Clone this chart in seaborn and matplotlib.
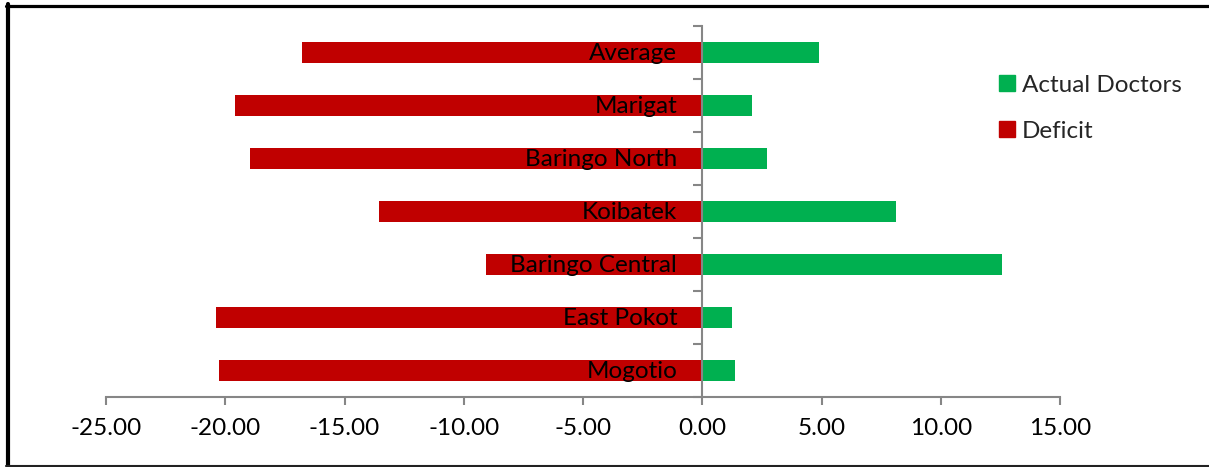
import matplotlib
matplotlib.use("Agg")
import matplotlib.pyplot as plt
import matplotlib.ticker as mticker
from matplotlib.lines import Line2D
import seaborn as sns
import pandas as pd

# Doctors per constituency (top row first)
constituencies = ["Average", "Marigat", "Baringo North", "Koibatek",
                  "Baringo Central", "East Pokot", "Mogotio"]
actual_doctors = [4.90, 2.09, 2.71, 8.12, 12.58, 1.26, 1.39]
deficit = [-16.77, -19.59, -18.96, -13.56, -9.07, -20.40, -20.28]
series_names = ["Actual Doctors", "Deficit"]
series_colors = ["#00B050", "#C00000"]
x_ticks = [-25, -20, -15, -10, -5, 0, 5, 10, 15]

df = pd.DataFrame({
    "Constituency": constituencies * 2,
    "Value": actual_doctors + deficit,
    "Series": [series_names[0]] * len(constituencies)
              + [series_names[1]] * len(constituencies),
})

sns.set_style("white")
plt.rcParams["font.family"] = ["Lato", "DejaVu Sans"]
plt.rcParams["axes.unicode_minus"] = False

FS = 17.5

fig = plt.figure(figsize=(12.09, 4.67), dpi=100)
ax = fig.add_axes([106 / 1209, 1 - 397 / 467, 954 / 1209, 371 / 467])

sns.barplot(data=df, x="Value", y="Constituency", hue="Series",
            order=constituencies, hue_order=series_names,
            palette=dict(zip(series_names, series_colors)), saturation=1,
            dodge=False, width=0.4, orient="h", ax=ax,
            linewidth=0, legend=False)

ax.set_xlim(x_ticks[0], x_ticks[-1])
ax.set_ylim(len(constituencies) - 0.5, -0.5)
ax.set_xlabel("")
ax.set_ylabel("")

axis_grey = "#868686"
for side in ("top", "right"):
    ax.spines[side].set_visible(False)
ax.spines["left"].set_position(("data", 0))
for side in ("left", "bottom"):
    ax.spines[side].set_color(axis_grey)
    ax.spines[side].set_linewidth(1.5)

# x axis
ax.set_xticks(x_ticks)
ax.xaxis.set_major_formatter(mticker.FormatStrFormatter("%.2f"))
ax.tick_params(axis="x", direction="out", length=6, width=1.5,
               color=axis_grey, labelsize=FS, labelcolor="black", pad=9,
               bottom=True)

# y axis: ticks between categories, labels drawn next to the zero line
ax.set_yticks([])
ax.yaxis.set_minor_locator(mticker.FixedLocator(
    [i - 0.5 for i in range(len(constituencies) + 1)]))
ax.tick_params(axis="y", which="minor", direction="out", length=6.5,
               width=1.5, color=axis_grey, left=True)
for i, name in enumerate(constituencies):
    ax.annotate(name, xy=(0, i), xytext=(-18, -1), textcoords="offset points",
                ha="right", va="center", fontsize=FS, color="black")

# legend
handles = [Line2D([0], [0], marker="s", linestyle="none", markersize=11,
                  markerfacecolor=c, markeredgecolor=c) for c in series_colors]
fig.legend(handles, series_names, loc="upper left",
           bbox_to_anchor=(973 / 1209, 1 - 53 / 467), frameon=False,
           fontsize=FS, handletextpad=0.1, labelspacing=1.03,
           handlelength=1.0)

# chart border
fig.add_artist(Line2D([8 / 1209, 8 / 1209], [0, 1 - 4 / 467],
                      transform=fig.transFigure, color="black", lw=3))
fig.add_artist(Line2D([6 / 1209, 1], [1 - 5.5 / 467, 1 - 5.5 / 467],
                      transform=fig.transFigure, color="black", lw=2.3))
fig.add_artist(Line2D([6 / 1209, 1], [1 / 467, 1 / 467],
                      transform=fig.transFigure, color="#222222", lw=1.5))

fig.savefig("out.png", dpi=100)
